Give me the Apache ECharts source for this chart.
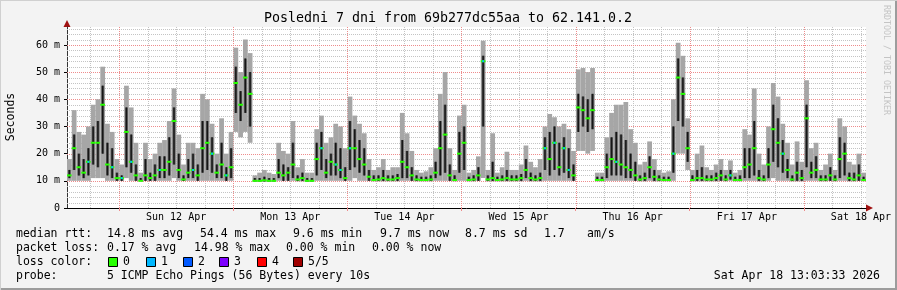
<!DOCTYPE html>
<html>
<head>
<meta charset="utf-8">
<script src="https://cdn.jsdelivr.net/npm/echarts@6/dist/echarts.min.js"></script>
<style>
html,body{margin:0;padding:0;background:#f3f3f3;}
#c{width:897px;height:290px;}
</style>
</head>
<body>
<div id="c"></div>
<script>
// ---- data: one bucket per hour, starting Sat 11 Apr 13:03:33 (values in ms) ----
const rttMax = [
 18,36,28,27,30,38,40,52,31,28,18,16,
 45,37,24,13,24,18,20,24,25,32,44,27,
 16,24,24,22,42,40,31,20,33,20,28,59,
 50,62,57,12,13,14,13,12.5,24,21,20,32,
 15,18,13,13,29,34,24,26,31,30,22,41,
 34,31,27.5,18,14,15,18,14,15,15,35,27.5,
 21,14,13,13.5,15,22,42,50,22,14,34,38,
 13,14,19,61.5,14,27.5,13,15,20.7,14,14,16,
 23,17,15,18,30,34.6,33.4,30,31,29,21,51,
 51.5,50,51.5,13,13,26,35,38,38,39,29,24,
 16,17,24.5,18,14,13,13.5,40,60.8,56,33,14,
 20,23,15,14,16,18,14,17.5,13,14,29,27,
 44,20,16,30,46,41,31,24,16,24.5,17,47,
 22,24,14,16,20,14,33,30,17,16,20,13
];
const rttQ3 = [
 14,27,20,18,22,30,32,45,24,22,13,12,
 37,27,16,11,18,13,16,19,19,26,37,20,
 12,18,20,16,32,32,26,16,24,15,22,52,
 43,55,50,11,11,11.5,11,11,18,16,15,24,
 12,13,11,11,24,28,18,20,24,22,15,32,
 29,25,22,14,12,12,14,12,12,12.5,25,21,
 15,12,11.5,11.5,12,17,32,38,16,12,28,30,
 11.5,12,15,56,12,17,11.5,12,14,12,12,12.5,
 18,13,12,13,26,28,30,24,26,22,16,42,
 41,40,42,11.5,11.5,20,26,28,27,25,20,17,
 12,13,19,14,12,11.5,11.5,30,55,48,28,12,
 14,15,12,12,13,14,12,14,11.5,12,22,22,
 32,14,12,22,38,33,25,18,12,17,14,38,
 17,19,12,12,15,12,26,24,13,13,16,11.5
];
const rttMedian = [
 12,22,15,13,17,24,24,38,16,15,11,11,
 28,17,12,10,12,11,12,14,14,17,32,14,
 10.5,13,14,12,22,24,20,13,16,12,15,46,
 38,48,42,10,10,10.2,10,10,13,12,13,16,
 10.5,11,10,10,18,22,13,17,16,14,11,22,
 22,18,16,11.5,10.3,10.5,11,10.5,10.5,11,17,15,
 12,10.5,10.3,10.3,10.5,13,22,27,12,10.3,20,24,
 10.3,10.5,12,54,10.5,11,10.3,10.5,11,10.5,10.5,11,
 14,11,10.5,11,22,18,24,15,22,14,12,37,
 36,33,36,10.3,10.3,15,18,17,16,15,14,12,
 10.5,11,15,11.5,10.5,10.3,10.3,20,48,42,22,10.3,
 11,11,10.5,10.5,11,12,10.5,12,10.3,10.3,15,16,
 22,11,10.5,16,29,24,20,14,10.5,13,11,33,
 13,14,10.5,10.5,12,10.5,18,20,11,10.5,12,10.3
];
const rttQ1 = [
 11,14,12,11,12,16,15,20,12,11,10,10,
 15,13,10,10,10,10,10,11,11,12,16,11,
 10,11,11,10,13,14,13,11,11,10,11,35,
 32,35,30,9.8,9.8,9.8,9.8,9.8,11,10,10,11,
 10,10,9.8,9.8,12,14,11,12,12,11,10,14,
 15,13,12,10,10,10,10,10,10,10,11,11,
 10,10,10,10,10,11,12,13,10,10,13,14,
 10,10,10,30,10,10,10,10,10,10,10,10,
 11,10,10,10,14,12,14,12,13,11,10,28,
 30,28,29,10,10,11,12,12,12,11,11,10,
 10,10,11,10,10,10,10,13,32,30,17,10,
 10,10,10,10,10,10,10,10.5,10,10,11,11,
 12,10,10,11,17,15,13,11,10,10,10,15,
 11,11,10,10,10,10,11,12,10,10,10,10
];
const rttMin = [
 10,10,10,10,10,11,11,11,10,10,10,10,
 11,10,10,9.8,10,10,10,10,10,10,11,10,
 10,10,10,10,10,10,10,10,10,10,10,28,
 26,28,24,9.6,9.6,9.6,9.6,9.6,10,10,10,10,
 9.8,9.8,9.6,9.6,10,10,10,10,10,10,10,10,
 11,10,10,10,9.8,9.8,9.8,9.8,9.8,9.8,10,10,
 10,9.8,9.8,9.8,9.8,10,10,10,10,9.8,10,10,
 9.8,9.8,10,11,9.8,9.8,9.8,9.8,9.8,9.8,9.8,9.8,
 10,9.8,9.8,9.8,10,10,10,10,10,10,10,21,
 21,20,21,9.8,9.8,10,10,10,10,10,10,10,
 9.8,9.8,10,9.8,9.8,9.8,9.8,10,20,20,14,9.8,
 9.8,9.8,9.8,9.8,9.8,10,9.8,10,9.8,9.8,10,10,
 10,9.8,9.8,10,11,10,10,10,9.8,9.8,9.8,10,
 10,10,9.8,9.8,10,9.8,10,10,9.8,9.8,10,9.8
];
const lostPings = [
 0,0,0,0,1,0,0,0,0,1,0,1,
 0,1,0,0,0,0,0,1,0,0,0,0,
 0,0,1,0,0,0,1,0,0,1,0,0,
 0,0,0,0,0,0,0,0,0,0,0,0,
 0,0,0,0,0,1,0,0,1,1,0,1,
 0,0,0,0,0,0,0,0,0,0,0,0,
 0,0,0,0,0,0,0,0,0,0,0,0,
 0,0,0,1,0,0,0,0,0,0,0,0,
 0,0,0,0,1,0,1,0,1,1,0,0,
 0,0,0,0,0,0,0,1,0,0,0,0,
 0,0,0,0,0,0,0,1,0,0,0,0,
 0,0,0,0,0,0,0,1,0,0,0,0,
 0,0,0,0,0,0,1,0,0,0,0,0,
 0,0,0,0,0,0,0,0,0,0,0,0
];
const dayLabels = ['Sun 12 Apr','Mon 13 Apr','Tue 14 Apr','Wed 15 Apr','Thu 16 Apr','Fri 17 Apr','Sat 18 Apr'];
const windowHours = 168;
const firstMidnight = 10 + 56/60 + 27/3600; // hours from window start to Sun 12 Apr 00:00
const yMaxMs = 66.6;
const yMajorStep = 10, yMinorStep = 2;
const lossColors = ['#26ff00','#00b8ff','#0059ff','#7e00ff','#ff0000','#a00000'];
const lossLabels = ['0','1','2','3','4','5/5'];
const titleText = 'Posledni 7 dni from 69b277dc55aa to 62.141.0.2';
const statRows = [
  ['median rtt:', '14.8 ms avg', '54.4 ms max', '9.6 ms min', '9.7 ms now', '8.7 ms sd', '1.7', 'am/s'],
  ['packet loss:', '0.17 % avg', '14.98 % max', '0.00 % min', '0.00 % now'],
  ['loss color:'],
  ['probe:', '5 ICMP Echo Pings (56 Bytes) every 10s']
];
const stampText = 'Sat Apr 18 13:03:33 2026';

// ---- derived grid / tick positions ----
const midnights = [], sixHourMarks = [], noons = [];
for (let k = 0; k < 7; k++) {
  midnights.push(firstMidnight + 24 * k);
  noons.push(firstMidnight + 12 + 24 * k);
}
for (let k = -1; k < 27; k++) {
  const h = firstMidnight + 6 * k;
  if (h > 0 && h < windowHours && k % 4 !== 0) sixHourMarks.push(h);
}
const yMajor = [], yMinor = [];
for (let v = yMinorStep; v < yMaxMs; v += yMinorStep) {
  if (v % yMajorStep === 0) yMajor.push(v); else yMinor.push(v);
}

const smokeData = rttMedian.map((m, i) => [i, rttMin[i], rttQ1[i], m, rttQ3[i], rttMax[i], lostPings[i]]);
const MONO = '"DejaVu Sans Mono", monospace';
const MINOR = '#c4c4c4', MAJOR = '#ee8c8c';

function makeVLineRenderer(color) {
  return function (params, api) {
    const cs = params.coordSys;
    const x = Math.round(api.coord([api.value(0), 0])[0]) + 0.5;
    return {
      type: 'line',
      shape: { x1: x, y1: cs.y, x2: x, y2: cs.y + cs.height },
      style: { stroke: color, lineWidth: 1, lineDash: [1, 1], fill: null }
    };
  };
}
function makeHLineRenderer(color) {
  return function (params, api) {
    const cs = params.coordSys;
    const y = Math.round(api.coord([0, api.value(1)])[1]) + 0.5;
    return {
      type: 'line',
      shape: { x1: cs.x, y1: y, x2: cs.x + cs.width, y2: y },
      style: { stroke: color, lineWidth: 1, lineDash: [1, 1], fill: null }
    };
  };
}

function renderSmoke(params, api) {
  const t = api.value(0);
  const x0 = api.coord([t, 0])[0];
  const w = api.coord([t + 1, 0])[0] - x0;
  const y = v => api.coord([t, v])[1];
  const yMin = y(api.value(1)), yQ1 = y(api.value(2)), yMed = y(api.value(3));
  const yQ3 = y(api.value(4)), yMax = y(api.value(5));
  const loss = api.value(6);
  const r = (x, top, bottom, width, fill) => ({
    type: 'rect',
    shape: { x: x, y: top, width: width, height: Math.max(bottom - top, 1) },
    style: { fill: fill }
  });
  const cw = (f) => Math.max(w * f, 1.2);
  const cx = (f) => x0 + (w - cw(f)) / 2;
  const children = [
    r(x0, yMax, yMin, w, '#a6a6a6'),
    r(cx(0.6), yQ3, yQ1, cw(0.6), '#5c5c5c'),
    r(cx(0.3), yQ3, yQ1, cw(0.3), '#161616'),
    r(x0, yMed - 1, yMed + 1, w, lossColors[0])
  ];
  if (loss > 0) children.push(r(cx(0.4), yMed - 1, yMed + 1, cw(0.4), lossColors[loss]));
  return { type: 'group', children: children };
}

// ---- graphic texts ----
const statX = [16, 107, 200, 293, 380, 465, 544, 587];
const statX2 = [16, 107, 194, 286, 372];
const rowY = [234, 248, 262, 276];
const graphics = [];
const txt = (x, yy, s, extra) => ({
  type: 'text', x: x, y: yy, silent: true,
  style: Object.assign({ text: s, font: '11.5px ' + MONO, fill: '#000', verticalAlign: 'middle' }, extra || {})
});
statRows[0].forEach((s, i) => graphics.push(txt(statX[i], rowY[0], s)));
statRows[1].forEach((s, i) => graphics.push(txt(statX2[i], rowY[1], s)));
graphics.push(txt(16, rowY[2], statRows[2][0]));
const boxX = [108, 146, 183, 219, 257, 293];
lossLabels.forEach((l, i) => {
  graphics.push({ type: 'rect', silent: true, shape: { x: boxX[i] + 0.5, y: rowY[2] - 4.5, width: 9, height: 9 },
    style: { fill: lossColors[i], stroke: '#000', lineWidth: 1 } });
  graphics.push(txt(boxX[i] + 15, rowY[2], l));
});
graphics.push(txt(16, rowY[3], statRows[3][0]));
graphics.push(txt(107, rowY[3], statRows[3][1]));
graphics.push(txt(880, rowY[3], stampText, { align: 'right' }));
graphics.push({ type: 'text', x: 448, y: 19, silent: true,
  style: { text: titleText, font: '13.3px ' + MONO, fill: '#000', align: 'center', verticalAlign: 'middle' } });
graphics.push({ type: 'text', x: 11, y: 117, rotation: Math.PI / 2, silent: true,
  style: { text: 'Seconds', font: '11.5px ' + MONO, fill: '#000', align: 'center', verticalAlign: 'middle' } });
graphics.push({ type: 'text', x: 886, y: 5, rotation: -Math.PI / 2, silent: true,
  style: { text: 'RRDTOOL / TOBI OETIKER', font: '8.3px ' + MONO, fill: '#c4c4c4', align: 'left', verticalAlign: 'middle' } });
graphics.push({ type: 'polygon', silent: true, shape: { points: [[866, 204.5], [873, 208], [866, 211.5]] }, style: { fill: '#a01010' } });
graphics.push({ type: 'polygon', silent: true, shape: { points: [[63.5, 27], [67, 20], [70.5, 27]] }, style: { fill: '#a01010' } });
graphics.push({ type: 'rect', silent: true, shape: { x: 0, y: 288, width: 897, height: 2 }, style: { fill: '#9c9c9c' } });
graphics.push({ type: 'rect', silent: true, shape: { x: 895, y: 0, width: 2, height: 290 }, style: { fill: '#9c9c9c' } });
graphics.push({ type: 'rect', silent: true, shape: { x: 0, y: 0, width: 897, height: 1 }, style: { fill: '#d0d0d0' } });
graphics.push({ type: 'rect', silent: true, shape: { x: 0, y: 0, width: 1, height: 290 }, style: { fill: '#d0d0d0' } });

const chart = echarts.init(document.getElementById('c'), null, { renderer: 'canvas' });
chart.setOption({
  backgroundColor: '#f3f3f3',
  animation: false,
  grid: { left: 67, right: 31, top: 27, bottom: 82, show: true, backgroundColor: '#ffffff', borderWidth: 0 },
  xAxis: {
    type: 'value', min: 0, max: windowHours,
    splitLine: { show: false },
    axisLine: { show: true, lineStyle: { color: '#000', width: 1 } },
    axisTick: { show: true, customValues: midnights, length: 3, lineStyle: { color: MAJOR } },
    axisLabel: {
      show: true, customValues: noons, margin: 4,
      fontFamily: 'DejaVu Sans Mono', fontSize: 10, color: '#000',
      formatter: v => dayLabels[Math.round((v - firstMidnight - 12) / 24)] || ''
    }
  },
  yAxis: {
    type: 'value', min: 0, max: yMaxMs, interval: yMajorStep,
    axisLine: { show: true, onZero: false, lineStyle: { color: '#333', width: 1 } },
    axisTick: { show: true, length: 3, lineStyle: { color: '#000' } },
    axisLabel: {
      show: true, showMaxLabel: false, margin: 7,
      fontFamily: 'DejaVu Sans Mono', fontSize: 10, color: '#000',
      formatter: v => (Math.abs(v % 10) > 0.01 ? '' : (v === 0 ? '0' : v + ' m'))
    },
    splitLine: { show: false }
  },
  series: [
    { type: 'custom', name: 'minorV', z: 1, silent: true, clip: true,
      renderItem: makeVLineRenderer(MINOR), data: sixHourMarks.map(h => [h, 0]) },
    { type: 'custom', name: 'minorH', z: 1, silent: true, clip: true,
      renderItem: makeHLineRenderer(MINOR), data: yMinor.map(v => [0, v]) },
    { type: 'custom', name: 'majorV', z: 1, silent: true, clip: true,
      renderItem: makeVLineRenderer(MAJOR), data: midnights.map(h => [h, 0]) },
    { type: 'custom', name: 'majorH', z: 1, silent: true, clip: true,
      renderItem: makeHLineRenderer(MAJOR), data: yMajor.map(v => [0, v]) },
    { type: 'custom', name: 'smoke', z: 2, silent: true, clip: true, renderItem: renderSmoke,
      encode: { x: 0, y: [1, 5] }, data: smokeData }
  ],
  graphic: graphics
});
</script>
</body>
</html>
